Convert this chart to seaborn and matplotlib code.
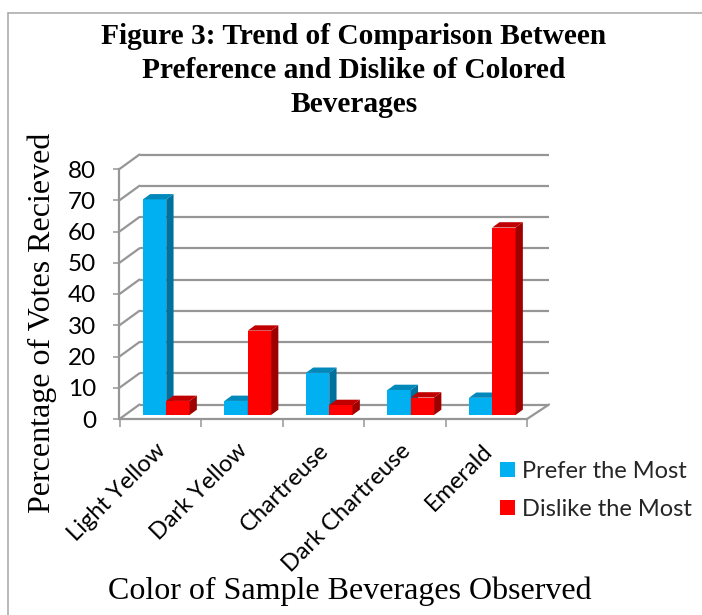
import matplotlib
matplotlib.use("Agg")
import matplotlib.pyplot as plt
from matplotlib.lines import Line2D
from matplotlib.patches import Polygon, Patch
from matplotlib.transforms import ScaledTranslation
import pandas as pd
import seaborn as sns

categories = ["Light Yellow", "Dark Yellow", "Chartreuse", "Dark Chartreuse", "Emerald"]
prefer = [69, 4.5, 13.5, 8, 5.5]
dislike = [4.5, 27, 3.2, 5.6, 60]
series_names = ["Prefer the Most", "Dislike the Most"]
y_ticks = [0, 10, 20, 30, 40, 50, 60, 70, 80]
title = "Figure 3: Trend of Comparison Between\nPreference and Dislike of Colored\nBeverages"
x_title = "Color of Sample Beverages Observed"
y_title = "Percentage of Votes Recieved"

FACE = ["#00B0F0", "#FF0000"]
SIDE = ["#00709C", "#9E0000"]
TOP = ["#0088BA", "#C00000"]
GRID = "#969696"

W, H = 702, 615
L, R, T, B = 119.5, 527, 169, 419
sns.set_theme(style="white")
fig = plt.figure(figsize=(W / 100, H / 100), dpi=100)
ax = fig.add_axes([L / W, 1 - B / H, (R - L) / W, (B - T) / H])

df = pd.DataFrame({
    "category": categories * 2,
    "series": [series_names[0]] * 5 + [series_names[1]] * 5,
    "value": prefer + dislike,
})
sns.barplot(data=df, x="category", y="value", hue="series", hue_order=series_names,
            palette=FACE, width=0.572, saturation=1, legend=False, ax=ax, linewidth=0)
ax.set_xlim(-0.5, 4.5)
ax.set_ylim(0, 80)

ux = 5 / (R - L)     # data units per pixel, x
uy = 80 / (B - T)    # data units per pixel, y

# back wall and side wall
back_dx, back_dy = 20 * ux, 14.5 * uy
for v in y_ticks:
    ax.plot([-0.5 + back_dx, 4.5 + 2 * ux + back_dx], [v + back_dy] * 2, color=GRID, lw=1.6,
            clip_on=False, zorder=1, solid_capstyle="butt")
    ax.plot([-0.5, -0.5 + back_dx], [v, v + back_dy], color=GRID, lw=1.6, clip_on=False, zorder=1)
ax.plot([4.5, 4.5 + 2 * ux + back_dx], [0, back_dy], color=GRID, lw=1.6, clip_on=False, zorder=1)

# bars: move into the middle of the floor's depth and add their 3D faces
off_x, off_y = 6 * ux, 4 * uy
dep_x, dep_y = 7.3 * ux, 5.3 * uy
for k, patch in enumerate(ax.patches):
    s = k // len(categories)
    patch.set_x(patch.get_x() + off_x)
    patch.set_y(off_y)
    patch.set_clip_on(False)
    patch.set_zorder(3 + s)
    x0, x1 = patch.get_x(), patch.get_x() + patch.get_width()
    y0, y1 = off_y, off_y + patch.get_height()
    ax.add_patch(Polygon([(x1, y0), (x1 + dep_x, y0 + dep_y), (x1 + dep_x, y1 + dep_y), (x1, y1)],
                         facecolor=SIDE[s], lw=0, clip_on=False, zorder=3 + s))
    ax.add_patch(Polygon([(x0, y1), (x0 + dep_x, y1 + dep_y), (x1 + dep_x, y1 + dep_y), (x1, y1)],
                         facecolor=TOP[s], lw=0, clip_on=False, zorder=3 + s))

# axes
for side in ("top", "right"):
    ax.spines[side].set_visible(False)
for side in ("left", "bottom"):
    ax.spines[side].set_color(GRID)
    ax.spines[side].set_linewidth(1.6)
    ax.spines[side].set_zorder(2)
ax.set_yticks(y_ticks)
ax.set_xticks(range(len(categories)))
ax.set_xticklabels(categories, rotation=45, ha="right", rotation_mode="anchor",
                   family="Lato", fontsize=17, color="black")
ax.set_xticks([i - 0.5 for i in range(len(categories) + 1)], minor=True)
ax.tick_params(axis="x", which="major", length=0, pad=15)
ax.tick_params(axis="x", which="minor", length=5.5, width=1.1, color=GRID, bottom=True)
ax.tick_params(axis="y", length=4.5, width=1.1, color=GRID, pad=12.5, left=True)
shift = ScaledTranslation(-5 / 100, 0, fig.dpi_scale_trans)
for lab in ax.get_xticklabels():
    lab.set_transform(lab.get_transform() + shift)
for lab in ax.get_yticklabels():
    lab.set_family("Lato")
    lab.set_fontsize(17.5)
    lab.set_color("black")
ax.set_xlabel("")
ax.set_ylabel("")

# text placed in figure pixels
fig.text(354 / W, 1 - 70.5 / H, title, ha="center", va="center", family="Liberation Serif",
         fontweight="bold", fontsize=21.2, linespacing=1.33, color="black")
fig.text(350 / W, 1 - 591 / H, x_title, ha="center", va="center", family="Liberation Serif",
         fontsize=23, color="black")
fig.text(42.5 / W, 1 - 323 / H, y_title, ha="center", va="center", rotation=90,
         family="Liberation Serif", fontsize=23, color="black")

handles = [Patch(facecolor=c, lw=0) for c in FACE]
fig.legend(handles, series_names, loc="upper left", bbox_to_anchor=(500 / W, 1 - 461 / H),
           frameon=False, prop={"family": "Lato", "size": 17}, handlelength=0.63, handleheight=0.63,
           handletextpad=0.31, labelspacing=0.72, borderpad=0, borderaxespad=0)

# outer frame of the picture
fig.add_artist(Line2D([8 / W, 1], [1 - 13 / H, 1 - 13 / H], color="#a6a6a6", lw=1.1))
fig.add_artist(Line2D([8 / W, 8 / W], [0, 1 - 13 / H], color="#a6a6a6", lw=1.1))

fig.savefig("out.png", dpi=100)
